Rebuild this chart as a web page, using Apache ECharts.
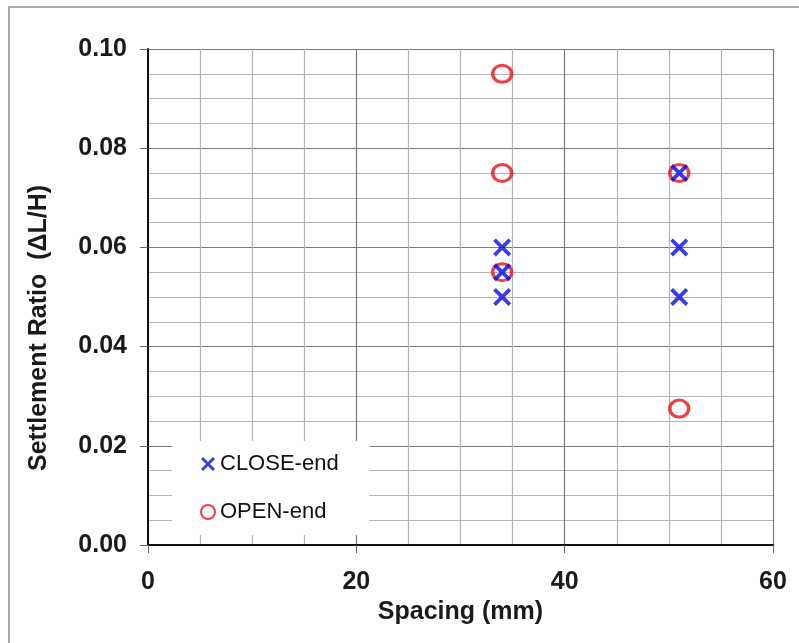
<!DOCTYPE html>
<html>
<head>
<meta charset="utf-8">
<script src="https://cdn.jsdelivr.net/npm/echarts@6/dist/echarts.min.js"></script>
<style>
  html, body { margin: 0; padding: 0; background: #fff; }
  #chart { width: 799px; height: 643px; }
</style>
</head>
<body>
<div id="chart"></div>
<script>
// Settlement ratio against pile spacing
const closeSpacing = [34, 34, 34, 51, 51, 51];
const closeRatio   = [0.060, 0.055, 0.050, 0.075, 0.060, 0.050];
const openSpacing  = [34, 34, 34, 51, 51];
const openRatio    = [0.095, 0.075, 0.055, 0.075, 0.0275];

const xTicks = [0, 20, 40, 60];
const yTicks = [0.00, 0.02, 0.04, 0.06, 0.08, 0.10];

const FONT = 'Liberation Sans, Arial, sans-serif';
const CROSS = 'path://M0,15 L15,0 L100,85 L85,100 Z M85,0 L100,15 L15,100 L0,85 Z';

const pairs = (xs, ys) => xs.map((x, i) => [x, ys[i]]);

const chart = echarts.init(document.getElementById('chart'));
chart.setOption({
  animation: false,
  backgroundColor: '#fff',
  textStyle: { fontFamily: FONT },
  grid: { left: 148, right: 26, top: 49, bottom: 98, containLabel: false },
  legend: {
    orient: 'vertical',
    left: 172, top: 441,
    padding: [12, 31, 12, 28],
    backgroundColor: '#fff',
    itemWidth: 14, itemHeight: 14,
    itemGap: 26,
    selectedMode: false,
    textStyle: { fontFamily: FONT, fontSize: 22, color: '#111' },
    data: ['CLOSE-end', 'OPEN-end']
  },
  xAxis: [{
    type: 'value',
    min: xTicks[0], max: xTicks[xTicks.length - 1], interval: 20,
    name: 'Spacing (mm)',
    nameLocation: 'middle', nameGap: 55,
    nameTextStyle: { fontFamily: FONT, fontSize: 25, fontWeight: 'bold', color: '#1a1a1a' },
    axisLine: { show: true, onZero: false, lineStyle: { color: '#888', width: 1.5 } },
    axisTick: { show: true, length: 8, lineStyle: { color: '#666' } },
    axisLabel: { fontFamily: FONT, fontSize: 25, fontWeight: 'bold', color: '#1a1a1a', margin: 25 },
    splitLine: { show: true, lineStyle: { color: '#7a7a7a', width: 1.2 } },
    minorTick: { show: false, splitNumber: 4 },
    minorSplitLine: { show: true, lineStyle: { color: '#b4b4b4', width: 1.2 } }
  }, {
    type: 'value', position: 'top',
    min: 0, max: 60,
    axisLine: { show: true, lineStyle: { color: '#111', width: 2 } },
    axisTick: { show: false }, axisLabel: { show: false }, splitLine: { show: false }
  }],
  yAxis: [{
    type: 'value',
    min: yTicks[0], max: yTicks[yTicks.length - 1], interval: 0.02,
    axisLine: { show: true, onZero: false, lineStyle: { color: '#888', width: 1.5 } },
    axisTick: { show: true, length: 8, lineStyle: { color: '#666' } },
    axisLabel: {
      fontFamily: FONT, fontSize: 25, fontWeight: 'bold', color: '#1a1a1a', margin: 21,
      formatter: v => v.toFixed(2)
    },
    splitLine: { show: true, lineStyle: { color: '#7a7a7a', width: 1.2 } },
    minorTick: { show: false, splitNumber: 4 },
    minorSplitLine: { show: true, lineStyle: { color: '#b4b4b4', width: 1.2 } }
  }, {
    type: 'value', position: 'right',
    min: 0, max: 0.10,
    axisLine: { show: true, lineStyle: { color: '#111', width: 2 } },
    axisTick: { show: false }, axisLabel: { show: false }, splitLine: { show: false }
  }],
  graphic: [
    {
      type: 'rect', silent: true, z: -10,
      shape: { x: 9, y: 7, width: 900, height: 800 },
      style: { fill: 'none', stroke: '#aaa', lineWidth: 2 }
    },
    {
      type: 'text', silent: true,
      x: 39, y: 328, rotation: Math.PI / 2,
      style: {
        text: 'Settlement Ratio  (\u0394L/H)',
        fontFamily: FONT, fontSize: 25, fontWeight: 'bold', fill: '#1a1a1a',
        align: 'center', verticalAlign: 'middle'
      }
    }
  ],
  series: [
    {
      name: 'OPEN-end',
      type: 'scatter',
      z: 3,
      data: pairs(openSpacing, openRatio),
      symbol: 'circle',
      symbolSize: [19, 17],
      itemStyle: { color: 'rgba(0,0,0,0)', borderColor: '#ea0f18', borderWidth: 3.2 }
    },
    {
      name: 'CLOSE-end',
      type: 'scatter',
      z: 4,
      data: pairs(closeSpacing, closeRatio),
      symbol: CROSS,
      symbolSize: 18,
      itemStyle: { color: '#0a0ae0' }
    }
  ]
});
</script>
</body>
</html>
